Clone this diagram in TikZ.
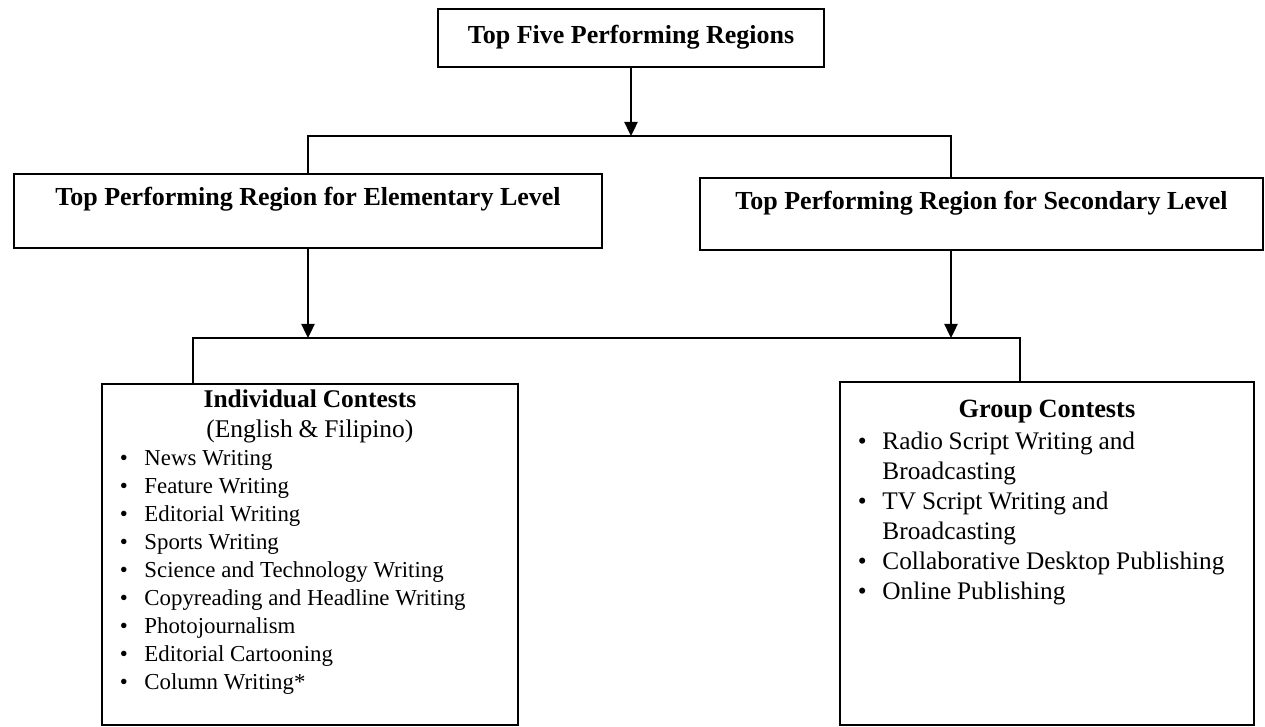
\documentclass[tikz,border=0pt]{standalone}
\usepackage{fontspec}
\setmainfont{Liberation Serif}
\usetikzlibrary{arrows.meta}

\tikzset{
  levelbox/.style={draw, line width=1.1pt, inner sep=0pt, anchor=north,
    font=\fontsize{14.8}{18}\selectfont\bfseries},
  contestbox/.style={draw, line width=1.1pt, inner sep=0pt, anchor=north west, align=left},
  link/.style={line width=1.1pt},
  arrowlink/.style={line width=1.1pt, -{Triangle[width=7.5pt,length=8pt]}}
}
\newcommand{\dotitem}[1]{\par\noindent\makebox[0.85cm][l]{\hspace{0.36cm}\textbullet}#1}
\newcommand{\moreline}[1]{\par\noindent\hspace*{0.85cm}#1}

\begin{document}
\begin{tikzpicture}[x=0.02cm,y=-0.02cm]
\useasboundingbox (0,0) rectangle (1265,727);

%Levels
\node[levelbox, minimum width=7.72cm, text height=0.7cm, text depth=0.46cm] (top) at (631,8) {Top Five Performing Regions};
\node[levelbox, minimum width=11.76cm, text height=0.64cm, text depth=0.84cm] (elem) at (308,173) {Top Performing Region for Elementary Level};
\node[levelbox, minimum width=11.26cm, text height=0.64cm, text depth=0.8cm] (sec) at (981.5,177) {Top Performing Region for Secondary Level};

%Contests
\node[contestbox, text width=8.32cm, text height=0.48cm, text depth=6.34cm] (indiv) at (101,383) {%
  {\centering\fontsize{14.5}{0.6cm}\selectfont\textbf{Individual Contests}\\(English \& Filipino)\par}
  \fontsize{13}{0.56cm}\selectfont
  \dotitem{News Writing}
  \dotitem{Feature Writing}
  \dotitem{Editorial Writing}
  \dotitem{Sports Writing}
  \dotitem{Science and Technology Writing}
  \dotitem{Copyreading and Headline Writing}
  \dotitem{Photojournalism}
  \dotitem{Editorial Cartooning}
  \dotitem{Column Writing*}\par};
\node[contestbox, text width=8.28cm, text height=0.72cm, text depth=6.14cm] (group) at (839,381) {%
  {\centering\fontsize{15}{0.6cm}\selectfont\textbf{Group Contests}\par}
  \vspace*{0.04cm}
  \fontsize{14.4}{0.6cm}\selectfont
  \dotitem{Radio Script Writing and}
  \moreline{Broadcasting}
  \dotitem{TV Script Writing and}
  \moreline{Broadcasting}
  \dotitem{Collaborative Desktop Publishing}
  \dotitem{Online Publishing}\par};

%Flow lines
\coordinate (splitL) at (308,136);
\coordinate (splitR) at (951,136);
\coordinate (joinL) at (193,338);
\coordinate (joinR) at (1020,338);

\draw[arrowlink] (top.south) -- (top.south |- splitL);
\draw[link] (elem.north) -- (splitL) -- (splitR) -- (sec.north -| splitR);

\draw[arrowlink] (elem.south) -- (elem.south |- joinL);
\draw[arrowlink] (sec.south -| splitR) -- (splitR |- joinL);
\draw[link] (indiv.north -| joinL) -- (joinL) -- (joinR) -- (group.north -| joinR);
\end{tikzpicture}
\end{document}
